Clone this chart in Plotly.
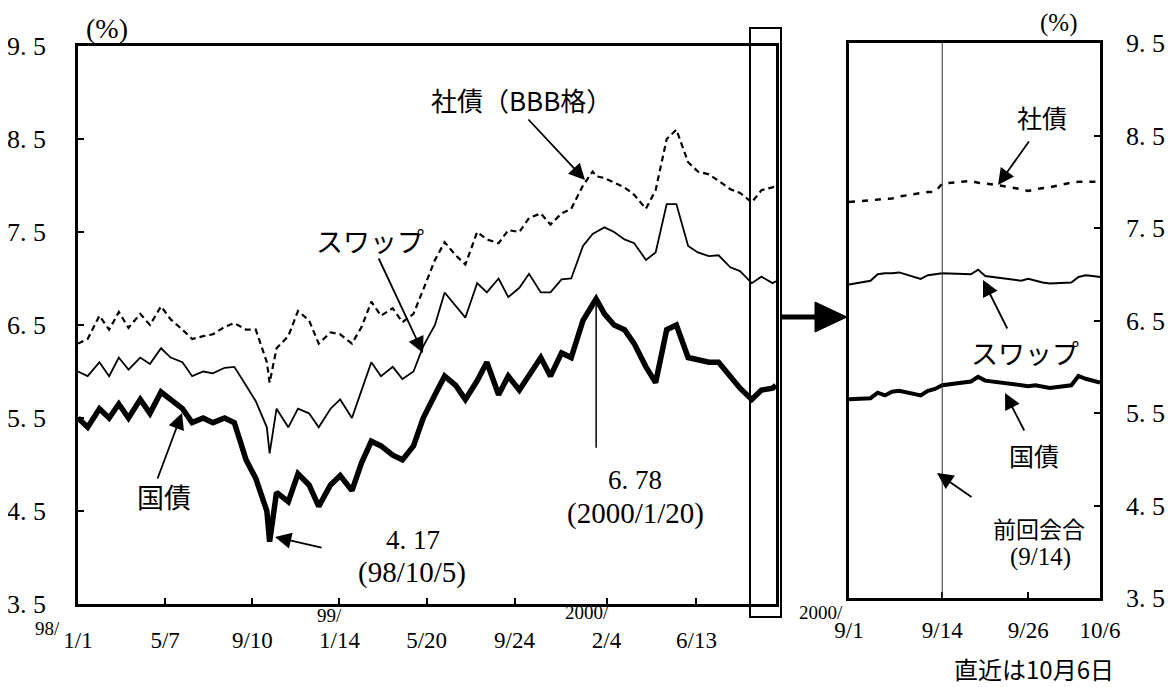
import plotly.graph_objects as go

W, H = 1176, 687
OFF = 8                      # page body margin of the browser
FW, FH = W - OFF, H - OFF    # figure size so that the page fits the window

# ---------------- data: left panel (1998/1/1 - 2000/10/6) ----------------
left_dates = [
    "1998-01-01", "1998-01-15", "1998-02-01", "1998-02-15", "1998-03-01", "1998-03-15",
    "1998-04-01", "1998-04-15", "1998-05-01", "1998-05-15", "1998-06-01", "1998-06-15",
    "1998-07-01", "1998-07-15", "1998-08-01", "1998-08-15", "1998-09-01", "1998-09-15",
    "1998-10-01", "1998-10-05", "1998-10-15", "1998-11-01", "1998-11-15", "1998-12-01",
    "1998-12-15",
    "1999-01-01", "1999-01-15", "1999-02-01", "1999-02-15", "1999-03-01", "1999-03-15",
    "1999-04-01", "1999-04-15", "1999-05-01", "1999-05-15", "1999-06-01", "1999-06-15",
    "1999-07-01", "1999-07-15", "1999-08-01", "1999-08-15", "1999-09-01", "1999-09-15",
    "1999-10-01", "1999-10-15", "1999-11-01", "1999-11-15", "1999-12-01", "1999-12-15",
    "2000-01-01", "2000-01-15", "2000-01-20", "2000-02-01", "2000-02-15", "2000-03-01",
    "2000-03-15", "2000-04-01", "2000-04-15", "2000-05-01", "2000-05-15", "2000-06-01",
    "2000-06-15", "2000-07-01", "2000-07-15", "2000-08-01", "2000-08-15", "2000-09-01",
    "2000-09-15", "2000-10-01", "2000-10-06",
]
jgb_left = [
    5.50, 5.40, 5.60, 5.50, 5.65, 5.50,
    5.70, 5.55, 5.78, 5.70, 5.60, 5.45,
    5.50, 5.45, 5.50, 5.45, 5.05, 4.85,
    4.50, 4.17, 4.70, 4.60, 4.90, 4.78,
    4.55,
    4.78, 4.88, 4.72, 5.02, 5.25, 5.20,
    5.10, 5.05, 5.20, 5.50, 5.75, 5.95,
    5.85, 5.70, 5.90, 6.10, 5.75, 5.95,
    5.80, 5.95, 6.15, 5.95, 6.20, 6.15,
    6.55, 6.72, 6.78, 6.62, 6.50, 6.45,
    6.30, 6.05, 5.88, 6.45, 6.50, 6.15,
    6.12, 6.10, 6.10, 5.95, 5.82, 5.70,
    5.80, 5.82, 5.85,
]
swap_left = [
    6.00, 5.95, 6.10, 5.95, 6.15, 6.02,
    6.15, 6.08, 6.25, 6.15, 6.10, 5.95,
    6.00, 5.98, 6.04, 6.05, 5.85, 5.68,
    5.40, 5.12, 5.60, 5.40, 5.60, 5.55,
    5.40,
    5.60, 5.70, 5.50, 5.80, 6.10, 5.95,
    6.05, 5.92, 6.00, 6.27, 6.50, 6.85,
    6.70, 6.58, 6.95, 6.85, 7.00, 6.80,
    6.90, 7.05, 6.85, 6.85, 6.99, 7.00,
    7.35, 7.48, 7.50, 7.55, 7.50, 7.42,
    7.38, 7.20, 7.28, 7.80, 7.80, 7.35,
    7.28, 7.24, 7.25, 7.12, 7.08, 6.95,
    7.02, 6.95, 6.97,
]
corp_left = [
    6.30, 6.35, 6.60, 6.45, 6.64, 6.47,
    6.62, 6.50, 6.70, 6.56, 6.45, 6.35,
    6.38, 6.40, 6.48, 6.52, 6.45, 6.45,
    6.10, 5.88, 6.25, 6.38, 6.65, 6.55,
    6.30,
    6.42, 6.40, 6.30, 6.48, 6.75, 6.60,
    6.68, 6.53, 6.62, 6.88, 7.20, 7.39,
    7.25, 7.15, 7.50, 7.42, 7.38, 7.52,
    7.50, 7.65, 7.70, 7.58, 7.70, 7.75,
    8.00, 8.15, 8.10, 8.08, 8.03, 7.98,
    7.90, 7.75, 7.95, 8.50, 8.60, 8.25,
    8.15, 8.12, 8.05, 7.96, 7.92, 7.82,
    7.95, 7.98, 8.00,
]

# ---------------- data: right panel (2000/9/1 - 10/6) ----------------
right_dates = [
    "2000-09-01", "2000-09-04", "2000-09-05", "2000-09-06", "2000-09-07", "2000-09-08",
    "2000-09-11", "2000-09-12", "2000-09-13", "2000-09-14", "2000-09-18", "2000-09-19",
    "2000-09-20", "2000-09-21", "2000-09-22", "2000-09-25", "2000-09-26", "2000-09-27",
    "2000-09-28", "2000-09-29", "2000-10-02", "2000-10-03", "2000-10-04", "2000-10-05",
    "2000-10-06",
]
jgb_right = [
    5.65, 5.66, 5.72, 5.69, 5.73, 5.74,
    5.69, 5.74, 5.76, 5.80, 5.84, 5.89,
    5.85, 5.84, 5.83, 5.80, 5.79, 5.80,
    5.78, 5.77, 5.80, 5.90, 5.87, 5.85,
    5.83,
]
swap_right = [
    6.89, 6.93, 7.00, 7.01, 7.01, 7.02,
    6.95, 6.99, 7.00, 7.01, 7.00, 7.05,
    6.98, 6.97, 6.96, 6.93, 6.95, 6.93,
    6.91, 6.90, 6.91, 6.97, 6.99, 6.98,
    6.97,
]
corp_right = [
    7.78, 7.80, 7.81, 7.81, 7.82, 7.84,
    7.88, 7.89, 7.89, 7.98, 8.01, 7.99,
    7.98, 7.97, 7.96, 7.92, 7.90, 7.92,
    7.93, 7.94, 7.99, 8.00, 8.00, 8.00,
    8.00,
]

left_tickvals = ["1998-01-01", "1998-05-07", "1998-09-10", "1999-01-14",
                 "1999-05-20", "1999-09-24", "2000-02-04", "2000-06-13"]
left_ticktext = ["1/1", "5/7", "9/10", "1/14", "5/20", "9/24", "2/4", "6/13"]
right_tickvals = ["2000-09-01", "2000-09-14", "2000-09-26", "2000-10-06"]
right_ticktext = ["9/1", "9/14", "9/26", "10/6"]
y_tickvals = [3.5, 4.5, 5.5, 6.5, 7.5, 8.5, 9.5]
y_ticktext = ["3. 5", "4. 5", "5. 5", "6. 5", "7. 5", "8. 5", "9. 5"]

peak_date, peak_value = "2000-01-20", 6.78
meeting_date = "2000-09-14"

JP = "Noto Sans CJK JP"
NUM = "Liberation Serif, DejaVu Serif, serif"


def px(x):
    return (x - OFF) / FW


def py(y):
    return 1 - (y - OFF) / FH


fig = go.Figure()

# left panel
fig.add_trace(go.Scatter(x=left_dates, y=corp_left, mode="lines", xaxis="x", yaxis="y",
                         line=dict(color="black", width=2.2, dash="6px,4px"), name="社債"))
fig.add_trace(go.Scatter(x=left_dates, y=swap_left, mode="lines", xaxis="x", yaxis="y",
                         line=dict(color="black", width=1.8), name="スワップ"))
fig.add_trace(go.Scatter(x=left_dates, y=jgb_left, mode="lines", xaxis="x", yaxis="y",
                         line=dict(color="black", width=5.5), name="国債"))
# right panel
fig.add_trace(go.Scatter(x=right_dates, y=corp_right, mode="lines", xaxis="x2", yaxis="y2",
                         line=dict(color="black", width=2.5, dash="6px,7px"), name="社債"))
fig.add_trace(go.Scatter(x=right_dates, y=swap_right, mode="lines", xaxis="x2", yaxis="y2",
                         line=dict(color="black", width=2), name="スワップ"))
fig.add_trace(go.Scatter(x=right_dates, y=jgb_right, mode="lines", xaxis="x2", yaxis="y2",
                         line=dict(color="black", width=4), name="国債"))

axis_common = dict(showline=True, linecolor="black", linewidth=2.5, mirror=True,
                   showgrid=False, zeroline=False, ticks="inside", ticklen=6,
                   tickwidth=1.5, tickcolor="black", automargin=False)

fig.update_layout(
    width=FW, height=FH, template="none",
    margin=dict(l=0, r=0, t=0, b=0),
    paper_bgcolor="white", plot_bgcolor="white",
    showlegend=False,
    xaxis=dict(axis_common, domain=[px(78), px(776)], anchor="y", type="date",
               range=["1998-01-01", "2000-10-06"], tickvals=left_tickvals,
               ticktext=left_ticktext, ticklabelstandoff=14,
               tickfont=dict(family=NUM, size=23, color="black")),
    yaxis=dict(axis_common, domain=[py(604), py(46)], anchor="x", range=[3.5, 9.5],
               tickvals=y_tickvals, ticktext=y_ticktext, ticklabelstandoff=24,
               tickfont=dict(family=NUM, size=26, color="black")),
    xaxis2=dict(axis_common, domain=[px(849), px(1100)], anchor="y2", type="date",
                range=["2000-09-01", "2000-10-06"], tickvals=right_tickvals,
                ticktext=right_ticktext, ticklabelstandoff=10,
                tickfont=dict(family=NUM, size=23, color="black")),
    yaxis2=dict(axis_common, domain=[py(598), py(43)], anchor="x2", side="right",
                range=[3.5, 9.5], tickvals=y_tickvals, ticktext=y_ticktext,
                ticklabelstandoff=18, tickfont=dict(family=NUM, size=26, color="black")),
)

ann = []


def text(x, y, s, size, family=JP):
    ann.append(dict(x=px(x), y=py(y), xref="paper", yref="paper", text=s, showarrow=False,
                    font=dict(size=size, family=family, color="black"),
                    xanchor="center", yanchor="middle"))


def arrow(hx, hy, tx, ty):
    ann.append(dict(x=px(hx), y=py(hy), xref="paper", yref="paper", ax=tx - hx, ay=ty - hy,
                    text="", showarrow=True, arrowhead=2, arrowsize=1.8, arrowwidth=1.8,
                    arrowcolor="black"))


text(107, 28, "(%)", 28, NUM)
text(1058, 23, "(%)", 25, NUM)

# year prefixes of tick labels
text(47, 628, "98/", 19, NUM)
text(329, 615, "99/", 19, NUM)
text(587, 612, "2000/", 19, NUM)
text(821, 612, "2000/", 19, NUM)

# left panel labels
text(521, 100, "社債（BBB格）", 26)
arrow(585, 180, 527, 118)
text(370, 240, "スワップ", 27)
arrow(423, 353, 378, 257)
text(164, 496, "国債", 27)
arrow(182, 413, 157, 480)
text(413, 540, "4. 17", 27, NUM)
text(412, 572, "(98/10/5)", 29, NUM)
arrow(275, 537, 323, 548)
text(635, 480, "6. 78", 27, NUM)
text(635, 513, "(2000/1/20)", 29, NUM)

# right panel labels
text(1042, 117, "社債", 25)
arrow(998, 185, 1030, 140)
text(1025, 352, "スワップ", 27)
arrow(983, 280, 1008, 330)
text(1034, 455, "国債", 25)
arrow(1005, 393, 1025, 432)
text(1039, 528, "前回会合", 23)
text(1040, 557, "(9/14)", 25, NUM)
arrow(937, 473, 973, 498)
text(1034, 668, "直近は10月6日", 24)

fig.update_layout(annotations=ann)

shapes = [
    # box around the latest period
    dict(type="rect", xref="paper", yref="paper", x0=px(750), x1=px(781), y0=py(617), y1=py(28),
         line=dict(color="black", width=2)),
    # big arrow shaft and head
    dict(type="line", xref="paper", yref="paper", x0=px(781), x1=px(822), y0=py(317), y1=py(317),
         line=dict(color="black", width=5)),
    dict(type="path", xref="paper", yref="paper",
         path=f"M {px(815)} {py(302)} L {px(847)} {py(317)} L {px(815)} {py(332)} Z",
         fillcolor="black", line=dict(color="black", width=1)),
    # previous meeting line
    dict(type="line", xref="x2", yref="y2 domain", x0=meeting_date, x1=meeting_date, y0=0, y1=1,
         line=dict(color="#333333", width=1)),
    # peak leader line
    dict(type="line", xref="x", yref="y", x0=peak_date, x1=peak_date, y0=peak_value, y1=5.18,
         line=dict(color="black", width=1.5)),
]
fig.update_layout(shapes=shapes)

fig.write_html("out.html")
